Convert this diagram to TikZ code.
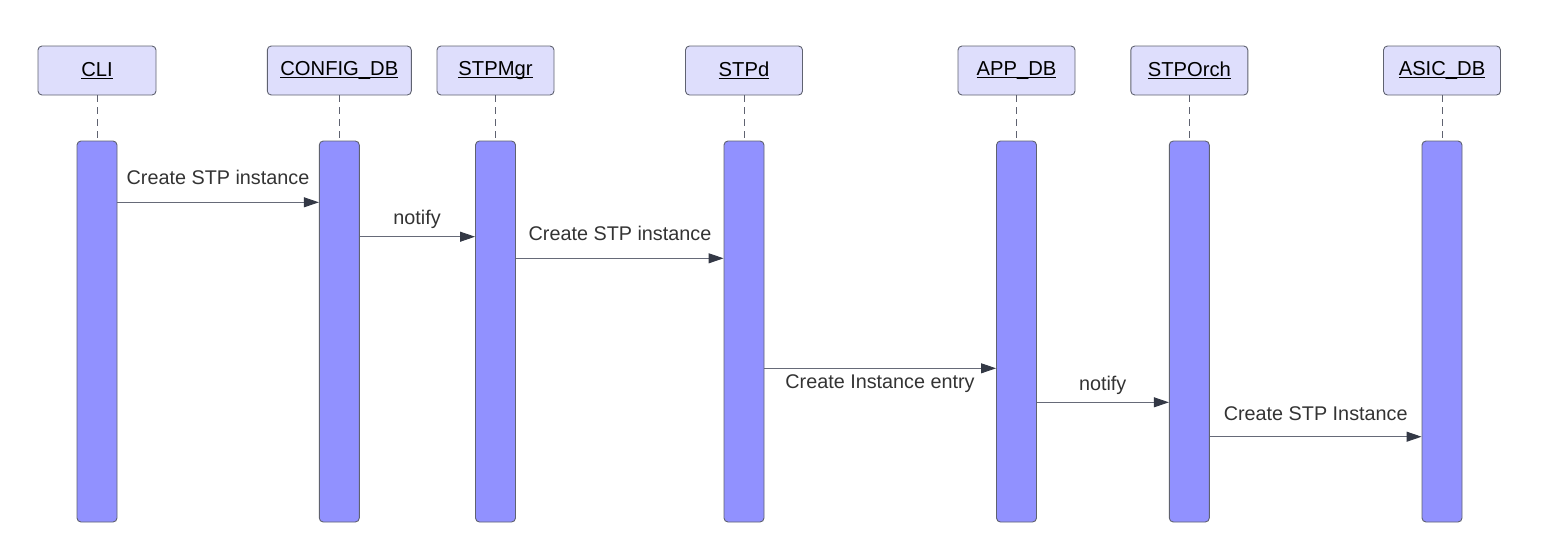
\documentclass[tikz,border=0pt]{standalone}
\usepackage{fontspec}
\setmainfont{Liberation Sans}
\usetikzlibrary{arrows.meta}
\definecolor{hdrfill}{HTML}{DEDEFC}
\definecolor{barfill}{HTML}{9191FF}
\definecolor{edgegray}{HTML}{5F6270}
\definecolor{msgline}{HTML}{666A78}
\definecolor{tipcol}{HTML}{333845}
\definecolor{labcol}{HTML}{333333}
\newcommand{\hdrtext}[1]{\setbox0\hbox{#1}\rlap{\copy0}\raisebox{-2.8pt}{\rule{\wd0}{1.4pt}}}
\tikzset{
  hdrbox/.style={draw=edgegray, line width=0.9pt, fill=hdrfill, rounded corners=4pt,
    minimum height=49pt, inner sep=0pt, font=\fontsize{20.2}{24}\selectfont, text=black},
  actbar/.style={draw=edgegray, line width=0.9pt, fill=barfill, rounded corners=4pt,
    minimum width=40pt, minimum height=381pt, inner sep=0pt},
  lifeline/.style={draw=edgegray, line width=0.9pt, dash pattern=on 7pt off 5pt},
  msg/.style={draw=msgline, line width=0.9pt, -{Triangle[length=15pt,width=10pt,color=tipcol]}},
  msglab/.style={font=\fontsize{19.8}{23}\selectfont, text=labcol, anchor=base, inner sep=0pt}
}
\begin{document}
\begin{tikzpicture}[x=1pt,y=-1pt]
\useasboundingbox (0,0) rectangle (1555,558);
% headers
\node[hdrbox, minimum width=118pt] (cli) at (97,70.5) {\hdrtext{CLI}};
\node[hdrbox, minimum width=144pt] (cfg) at (339.3,70.5) {\hdrtext{CONFIG\_DB}};
\node[hdrbox, minimum width=117pt] (mgr) at (495.5,70.5) {\hdrtext{STPMgr}};
\node[hdrbox, minimum width=117pt] (stpd) at (744,70.5) {\hdrtext{STPd}};
\node[hdrbox, minimum width=117pt] (app) at (1016.5,70.5) {\hdrtext{APP\_DB}};
\node[hdrbox, minimum width=117pt] (orch) at (1189.3,70.5) {\hdrtext{STPOrch}};
\node[hdrbox, minimum width=117pt] (asic) at (1442,70.5) {\hdrtext{ASIC\_DB}};
% activation bars
\node[actbar] (clibar) at (97,331.5) {};
\node[actbar] (cfgbar) at (339.3,331.5) {};
\node[actbar] (mgrbar) at (495.5,331.5) {};
\node[actbar] (stpdbar) at (744,331.5) {};
\node[actbar] (appbar) at (1016.5,331.5) {};
\node[actbar] (orchbar) at (1189.3,331.5) {};
\node[actbar] (asicbar) at (1442,331.5) {};
% lifelines
\foreach \h/\b in {cli/clibar,cfg/cfgbar,mgr/mgrbar,stpd/stpdbar,app/appbar,orch/orchbar,asic/asicbar}
  \draw[lifeline] (\h.south) -- (\b.north);
% messages
\draw[msg] (clibar.east |- 0,202.3) -- (cfgbar.west |- 0,202.3);
\node[msglab] (m1) at (218,184.3) {Create STP instance};
\draw[msg] (cfgbar.east |- 0,236.7) -- (mgrbar.west |- 0,236.7);
\node[msglab] (m2) at (417,224.3) {notify};
\draw[msg] (mgrbar.east |- 0,258.3) -- (stpdbar.west |- 0,258.3);
\node[msglab] (m3) at (620,240.7) {Create STP instance};
\draw[msg] (stpdbar.east |- 0,368.3) -- (appbar.west |- 0,368.3);
\node[msglab] (m4) at (880,388) {Create Instance entry};
\draw[msg] (appbar.east |- 0,402.3) -- (orchbar.west |- 0,402.3);
\node[msglab] (m5) at (1102.7,390) {notify};
\draw[msg] (orchbar.east |- 0,436.7) -- (asicbar.west |- 0,436.7);
\node[msglab] (m6) at (1315.7,420) {Create STP Instance};
\end{tikzpicture}
\end{document}
